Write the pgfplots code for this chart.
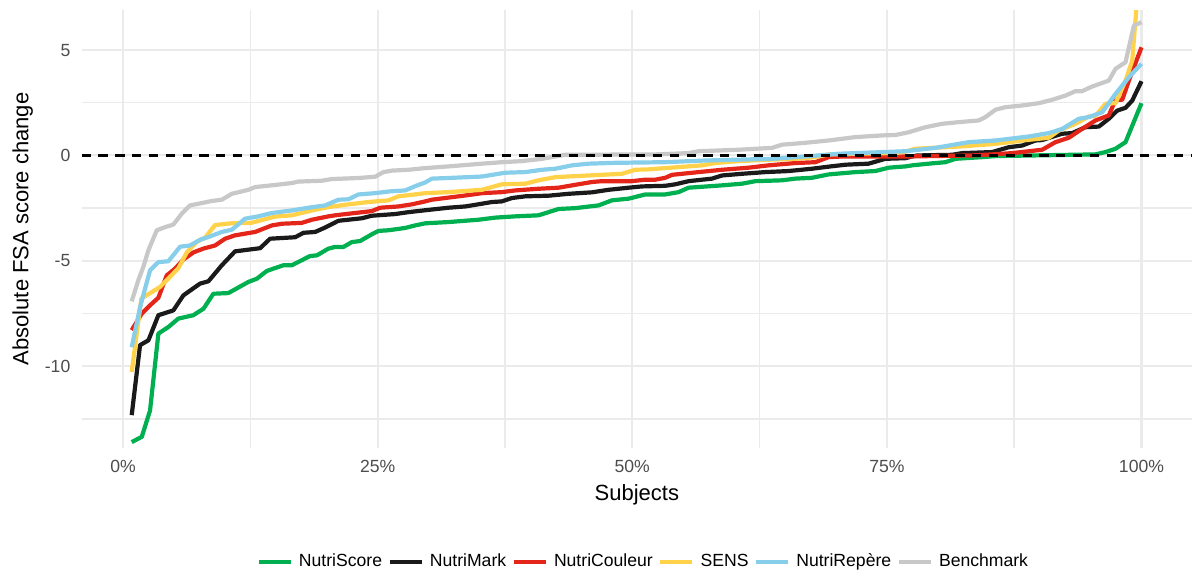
\documentclass[border=0pt]{standalone}
\usepackage{pgfplots}
\pgfplotsset{compat=1.18}
\usepackage{fontspec}
\setmainfont{Liberation Sans}

\definecolor{cscore}{HTML}{00B050}
\definecolor{cmark}{HTML}{1A1A1A}
\definecolor{ccouleur}{HTML}{E32619}
\definecolor{csens}{HTML}{FFD24A}
\definecolor{crepere}{HTML}{87CEEB}
\definecolor{cbench}{HTML}{C8C8C8}
\definecolor{gridc}{HTML}{EBEBEB}
\definecolor{tickc}{HTML}{4D4D4D}

\begin{document}
\begin{tikzpicture}
\useasboundingbox (-40.85pt,-63.5pt) rectangle (555.15pt,224pt);
\begin{axis}[
    at={(0pt,0pt)}, anchor=south west,
    scale only axis,
    width=555.15pt, height=219pt,
    xmin=-4.06, xmax=104.96,
    ymin=-13.88, ymax=6.9,
    axis line style={draw=none},
    major tick length=0pt, minor tick length=0pt,
    xtick={0,25,50,75,100},
    xticklabels={0\%,25\%,50\%,75\%,100\%},
    minor xtick={12.5,37.5,62.5,87.5},
    ytick={-10,-5,0,5},
    yticklabels={-10,-5,0,5},
    minor ytick={-12.5,-7.5,-2.5,2.5},
    grid=both,
    major grid style={gridc, line width=1.05pt},
    minor grid style={gridc, line width=0.7pt},
    ticklabel style={font=\fontsize{8.8}{10}\selectfont, text=tickc},
    xticklabel style={anchor=north, inner sep=0pt, yshift=-6pt},
    yticklabel style={anchor=east, inner sep=0pt, xshift=-5.5pt},
    every axis x label/.style={at={(axis description cs:0.5,-0.1187)}, anchor=base},
    every axis y label/.style={at={(axis description cs:-0.0481,0.5)}, rotate=90, anchor=base},
    label style={font=\fontsize{11}{13}\selectfont},
    xlabel={Subjects},
    ylabel={Absolute FSA score change},
    legend columns=6,
    legend style={at={(axis description cs:0.505,-0.2600)}, anchor=center,
        draw=none, fill=none, font=\fontsize{8.8}{10}\selectfont,
        nodes={inner sep=0pt},
        /tikz/every odd column/.append style={column sep=3pt},
        /tikz/every even column/.append style={column sep=2.8pt}},
    legend cell align=left,
    legend image code/.code={\draw[#1] (0pt,0pt) -- (16pt,0pt);},
    every axis plot/.append style={line width=2.1pt, line join=round, no markers},
]

% NutriScore
\addplot[cscore] coordinates {
(0.85,-13.6) (1.84,-13.35) (2.65,-12.1) (3.47,-8.45) (4.45,-8.14) (5.43,-7.74)
(6.9,-7.58) (7.9,-7.27) (8.87,-6.56) (10.34,-6.53) (12.31,-6.0) (13.13,-5.85)
(14.12,-5.48) (14.76,-5.37) (15.75,-5.21) (16.57,-5.21) (18.37,-4.77) (19.03,-4.74)
(20.17,-4.42) (20.83,-4.34) (21.64,-4.34) (22.47,-4.11) (23.28,-4.06) (24.43,-3.74)
(25.08,-3.58) (26.06,-3.55) (27.7,-3.44) (28.68,-3.32) (29.67,-3.22) (31.95,-3.16)
(34.9,-3.05) (36.54,-2.95) (38.5,-2.89) (40.8,-2.84) (41.78,-2.69) (42.76,-2.54)
(44.4,-2.5) (46.69,-2.37) (48.0,-2.13) (49.64,-2.05) (51.28,-1.85) (53.24,-1.85)
(54.55,-1.74) (55.53,-1.53) (58.81,-1.42) (60.78,-1.34) (62.08,-1.22) (64.7,-1.18)
(66.01,-1.1) (67.65,-1.06) (69.28,-0.9) (71.91,-0.79) (73.87,-0.74) (75.18,-0.58)
(76.82,-0.52) (77.47,-0.47) (79.11,-0.39) (80.75,-0.32) (81.73,-0.16) (84.36,-0.08)
(85.66,-0.03) (95.48,0.05) (96.46,0.16) (97.45,0.32) (98.43,0.63) (100,2.48)
};
\addlegendentry{NutriScore}

% NutriMark
\addplot[cmark] coordinates {
(0.85,-12.32) (1.67,-9.0) (2.49,-8.77) (3.47,-7.58) (4.94,-7.35) (5.92,-6.64)
(7.56,-6.08) (8.38,-5.97) (9.7,-5.21) (11.0,-4.55) (13.46,-4.4) (14.44,-3.95)
(16.9,-3.88) (17.71,-3.67) (18.86,-3.63) (19.84,-3.42) (21.15,-3.1) (23.45,-2.98)
(24.43,-2.86) (26.72,-2.78) (28.03,-2.69) (29.67,-2.6) (31.95,-2.48) (33.6,-2.42)
(35.24,-2.29) (36.22,-2.21) (37.2,-2.18) (38.18,-2.02) (39.49,-1.94) (41.78,-1.91)
(43.74,-1.82) (46.04,-1.75) (47.67,-1.63) (49.64,-1.53) (50.95,-1.47) (53.24,-1.44)
(54.22,-1.37) (55.53,-1.22) (57.83,-1.1) (58.81,-0.95) (60.78,-0.87) (63.06,-0.79)
(65.35,-0.74) (67.65,-0.63) (68.96,-0.55) (70.92,-0.44) (73.21,-0.39) (74.85,-0.16)
(76.82,-0.13) (77.47,-0.05) (78.0,0.0) (81.4,0.03) (82.39,0.11) (85.33,0.16)
(86.97,0.39) (88.28,0.47) (89.59,0.71) (90.24,0.73) (92.21,1.03) (93.19,1.06)
(94.5,1.34) (95.81,1.37) (96.79,1.74) (97.62,2.13) (98.43,2.26) (99.09,2.6) (100,3.52)
};
\addlegendentry{NutriMark}

% NutriCouleur
\addplot[ccouleur] coordinates {
(0.85,-8.29) (1.84,-7.5) (2.65,-7.11) (3.47,-6.75) (4.29,-5.69) (5.11,-5.37)
(5.92,-4.94) (6.91,-4.6) (7.89,-4.42) (9.04,-4.27) (10.02,-3.95) (11.0,-3.79)
(12.97,-3.63) (14.61,-3.32) (15.59,-3.24) (17.55,-3.2) (18.54,-3.05) (20.17,-2.89)
(20.83,-2.84) (22.79,-2.73) (24.43,-2.64) (25.25,-2.48) (27.04,-2.42) (28.36,-2.32)
(29.67,-2.18) (30.32,-2.1) (31.95,-2.0) (33.6,-1.9) (35.24,-1.79) (37.2,-1.74)
(38.5,-1.66) (40.8,-1.58) (42.76,-1.53) (44.08,-1.42) (46.04,-1.26) (47.02,-1.22)
(49.97,-1.22) (51.28,-1.15) (52.26,-1.15) (53.24,-1.06) (53.9,-0.92) (56.51,-0.79)
(58.81,-0.68) (61.43,-0.58) (63.39,-0.47) (66.01,-0.36) (67.98,-0.32) (69.28,-0.08)
(70.6,-0.05) (76.82,-0.05) (83.37,0.0) (85.33,0.05) (87.3,0.11) (90.24,0.27)
(91.55,0.63) (92.86,0.84) (94.17,1.26) (95.48,1.66) (96.79,1.9) (97.45,2.64)
(98.11,2.64) (98.76,3.55) (100,5.13)
};
\addlegendentry{NutriCouleur}

% SENS
\addplot[csens] coordinates {
(0.85,-10.27) (1.8,-6.79) (3.63,-6.24) (4.45,-5.84) (5.43,-5.35) (6.26,-4.6)
(7.24,-4.1) (8.05,-3.9) (9.04,-3.3) (10.83,-3.21) (12.48,-3.21) (13.29,-3.11)
(14.93,-2.9) (16.57,-2.84) (18.54,-2.61) (20.17,-2.45) (22.13,-2.32) (24.1,-2.21)
(26.06,-2.13) (27.04,-1.94) (29.67,-1.79) (31.95,-1.74) (35.24,-1.63) (37.2,-1.37)
(39.49,-1.34) (40.8,-1.18) (42.44,-1.03) (45.71,-0.95) (48.99,-0.87) (50.29,-0.68)
(51.6,-0.66) (53.24,-0.6) (56.85,-0.47) (58.15,-0.36) (60.44,-0.27) (63.06,-0.21)
(66.01,-0.16) (67.98,-0.08) (69.28,0.05) (74.0,0.1) (76.0,0.12) (77.0,0.2)
(77.8,0.32) (82.39,0.43) (85.66,0.55) (88.28,0.71) (90.9,0.84) (91.88,1.18)
(93.52,1.5) (94.82,1.85) (95.48,1.87) (96.46,2.45) (97.45,2.48) (98.43,3.55)
(99.09,4.5) (100,10.0)
};
\addlegendentry{SENS}

% NutriRepère
\addplot[crepere] coordinates {
(0.85,-9.1) (1.67,-7.2) (2.65,-5.45) (3.47,-5.06) (4.45,-5.02) (5.6,-4.33)
(6.58,-4.27) (7.56,-4.0) (8.38,-3.87) (9.7,-3.63) (10.68,-3.52) (11.0,-3.4)
(11.98,-3.0) (13.29,-2.89) (14.61,-2.73) (16.57,-2.61) (18.2,-2.48) (19.84,-2.37)
(21.15,-2.1) (22.13,-2.08) (23.11,-1.85) (24.75,-1.79) (26.06,-1.71) (27.7,-1.66)
(28.68,-1.46) (29.67,-1.28) (30.32,-1.1) (31.95,-1.07) (35.24,-1.0) (37.52,-0.82)
(39.49,-0.79) (41.13,-0.68) (42.44,-0.63) (44.08,-0.47) (45.71,-0.39) (48.33,-0.35)
(53.24,-0.32) (57.17,-0.24) (60.44,-0.2) (63.72,-0.16) (66.99,-0.05) (70.26,0.08)
(76.82,0.2) (79.76,0.36) (83.04,0.63) (85.66,0.71) (88.93,0.9) (90.9,1.06)
(92.21,1.26) (93.84,1.74) (94.82,1.82) (96.14,2.05) (97.45,2.92) (98.76,3.71) (100,4.35)
};
\addlegendentry{NutriRepère}

% Benchmark
\addplot[cbench] coordinates {
(0.85,-6.92) (1.5,-5.92) (1.99,-5.29) (2.49,-4.5) (3.31,-3.55) (4.13,-3.4)
(4.94,-3.28) (5.77,-2.76) (6.58,-2.37) (7.73,-2.26) (8.71,-2.16) (9.7,-2.1)
(10.68,-1.82) (12.31,-1.63) (12.97,-1.5) (14.93,-1.4) (16.57,-1.31) (17.22,-1.24)
(19.52,-1.2) (20.5,-1.12) (23.11,-1.07) (24.75,-1.01) (25.57,-0.79) (26.39,-0.72)
(28.03,-0.68) (29.67,-0.6) (31.95,-0.52) (35.24,-0.39) (37.2,-0.32) (39.16,-0.27)
(41.13,-0.16) (42.44,-0.05) (43.42,0.03) (52.26,0.05) (55.53,0.11) (56.51,0.2)
(60.44,0.27) (63.72,0.36) (64.7,0.51) (66.99,0.6) (69.28,0.71) (71.91,0.87)
(74.53,0.95) (75.83,0.97) (77.14,1.1) (78.78,1.34) (80.42,1.5) (82.05,1.58)
(84.02,1.66) (84.68,1.82) (85.66,2.17) (86.64,2.29) (88.28,2.37) (89.91,2.48)
(91.23,2.64) (92.53,2.84) (93.52,3.05) (94.17,3.05) (95.15,3.27) (96.79,3.55)
(97.45,4.11) (98.43,4.42) (99.25,6.16) (100,6.32)
};
\addlegendentry{Benchmark}

% zero reference line
\addplot[black, line width=1.1pt, dash pattern=on 4.6pt off 3.8pt, forget plot]
    coordinates {(-4.06,0) (104.96,0)};

\end{axis}
\end{tikzpicture}
\end{document}
